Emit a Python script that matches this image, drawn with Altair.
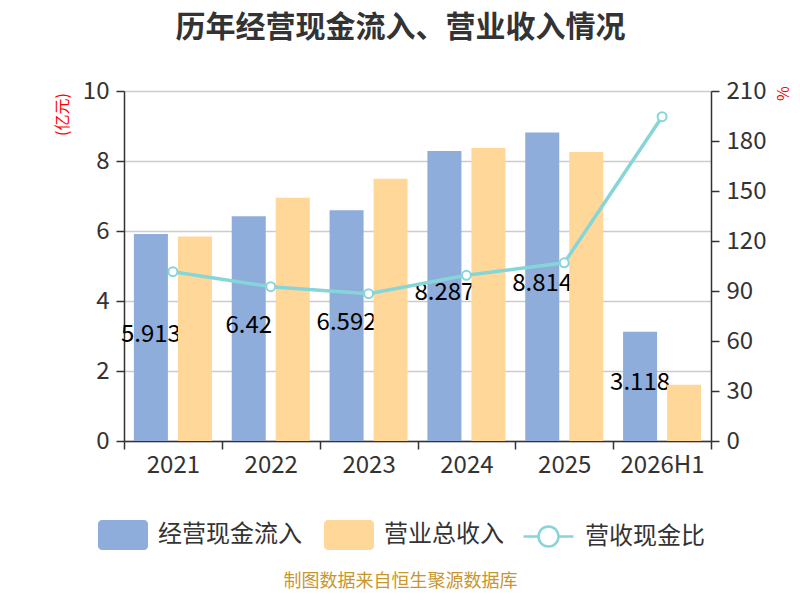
import altair as alt
import pandas as pd

FONT = "Noto Sans CJK SC"

years = ["2021", "2022", "2023", "2024", "2025", "2026H1"]
cash_inflow = [5.913, 6.42, 6.592, 8.287, 8.814, 3.118]
revenue = [5.84, 6.95, 7.49, 8.37, 8.26, 1.61]
ratio = [101.6, 92.6, 88.4, 99.4, 106.9, 194.6]
cash_labels = ["5.913", "6.42", "6.592", "8.287", "8.814", "3.118"]

series_names = ["经营现金流入", "营业总收入"]
line_name = "营收现金比"
BLUE = "#8eaddb"
ORANGE = "#ffd899"
TEAL = "#86d5d9"

bars_df = pd.DataFrame({
    "year": years * 2,
    "series": [series_names[0]] * len(years) + [series_names[1]] * len(years),
    "value": cash_inflow + revenue,
})
df = pd.DataFrame({"year": years, "cash": cash_inflow, "label": cash_labels,
                   "ratio": ratio, "name": [line_name] * len(years)})

rect_path = ("M-0.84,-0.6 H0.84 A0.16,0.16 0 0 1 1,-0.44 V0.44 A0.16,0.16 0 0 1 0.84,0.6 "
             "H-0.84 A0.16,0.16 0 0 1 -1,0.44 V-0.44 A0.16,0.16 0 0 1 -0.84,-0.6 Z")
line_path = ("M-1,0 H-0.4 M0.4,0 H1 M-0.4,0 A0.4,0.4 0 1 1 0.4,0 "
             "A0.4,0.4 0 1 1 -0.4,0 Z")

x_enc = alt.X(
    "year:N", sort=years,
    scale=alt.Scale(paddingInner=0, paddingOuter=0),
    axis=alt.Axis(
        title="制图数据来自恒生聚源数据库", titleColor="#c9962b", titleFontSize=18,
        titleFontWeight="normal", titleFont=FONT, titleX=276, titleY=140,
        titleBaseline="middle", titleAlign="center",
        labelFontSize=24, labelFont=FONT, labelColor="#333", labelAngle=0, labelPadding=4,
        tickBand="extent", tickSize=8, tickColor="#333", tickWidth=1.5,
        domainColor="#333", domainWidth=1.5, grid=False,
    ),
)
xoff = alt.XOffset("series:N", scale=alt.Scale(domain=series_names,
                                               paddingInner=0.227, paddingOuter=0.225))
y_left = alt.Y(
    "value:Q", scale=alt.Scale(domain=[0, 10]),
    axis=alt.Axis(
        values=[0, 2, 4, 6, 8, 10], title="(亿元)", titleColor="red", titleFontSize=16,
        titleFontWeight="normal", titleFont=FONT, titleX=-62, titleY=23,
        titleAlign="center", titleBaseline="middle", titleAngle=-90,
        labelFontSize=24, labelFont=FONT, labelColor="#333", labelPadding=7,
        tickSize=8, tickColor="#333", tickWidth=1.5, domainColor="#333", domainWidth=1.5,
        gridColor="#cccccc", gridWidth=1.5,
    ),
)
fill_enc = alt.Fill(
    "series:N", scale=alt.Scale(domain=series_names, range=[BLUE, ORANGE]),
    legend=alt.Legend(
        title=None, orient="none", legendX=-26, legendY=419, direction="horizontal",
        symbolType=rect_path, symbolSize=2500, symbolStrokeWidth=0, symbolOpacity=1,
        labelFontSize=24, labelFont=FONT, labelColor="#333", labelOffset=10,
        columnPadding=22, padding=0,
    ),
)

base_bars = alt.Chart(bars_df)
blue_bars = base_bars.transform_filter(alt.datum.series == series_names[0]).mark_bar().encode(
    x=x_enc, xOffset=xoff, y=y_left, fill=fill_enc)
orange_bars = base_bars.transform_filter(alt.datum.series == series_names[1]).mark_bar().encode(
    x=x_enc, xOffset=xoff, y=y_left, fill=fill_enc)

labels = alt.Chart(df).transform_calculate(value="datum.cash / 2").mark_text(
    dx=-22, dy=-3, fontSize=24, font=FONT, color="black", baseline="middle", align="center"
).encode(x=x_enc, y=alt.Y("value:Q"), text="label:N")

left = alt.layer(blue_bars, labels, orange_bars)

y_right = alt.Y(
    "ratio:Q", scale=alt.Scale(domain=[0, 210]),
    axis=alt.Axis(
        orient="right", values=list(range(0, 211, 30)), title="%", titleColor="red",
        titleFontSize=16, titleFontWeight="normal", titleFont=FONT, titleX=72, titleY=2,
        titleAlign="center", titleBaseline="middle", titleAngle=-90,
        labelFontSize=24, labelFont=FONT, labelColor="#333", labelPadding=7,
        tickSize=8, tickColor="#333", tickWidth=1.5, domainColor="#333", domainWidth=1.5,
        grid=False,
    ),
)
line = alt.Chart(df).mark_line(strokeWidth=3.5).encode(
    x=x_enc, y=y_right,
    stroke=alt.Stroke(
        "name:N", scale=alt.Scale(domain=[line_name], range=[TEAL]),
        legend=alt.Legend(
            title=None, orient="none", legendX=398, legendY=419,
            symbolType=line_path, symbolSize=2500, symbolStrokeWidth=2.5,
            symbolFillColor="white", labelFontSize=24, labelFont=FONT,
            labelColor="#333", labelOffset=10, padding=0,
        ),
    ),
)
points = alt.Chart(df).mark_point(
    shape="circle", filled=True, fill="white", stroke=TEAL, strokeWidth=2, size=80, opacity=1
).encode(x=x_enc, y=y_right)
right = alt.layer(line, points)

chart = alt.layer(left, right).resolve_scale(y="independent").properties(
    width=587, height=350,
    title=alt.TitleParams(
        "历年经营现金流入、营业收入情况", fontSize=30, font=FONT, fontWeight="bold",
        color="#333", anchor="middle", dx=-17, offset=6, frame="group", baseline="bottom",
    ),
    autosize=alt.AutoSizeParams(type="none"),
    padding={"left": 116, "top": 83, "right": 81, "bottom": 151},
).configure_view(stroke=None)

chart.save("out.html", embed_options={"renderer": "svg", "actions": False})
